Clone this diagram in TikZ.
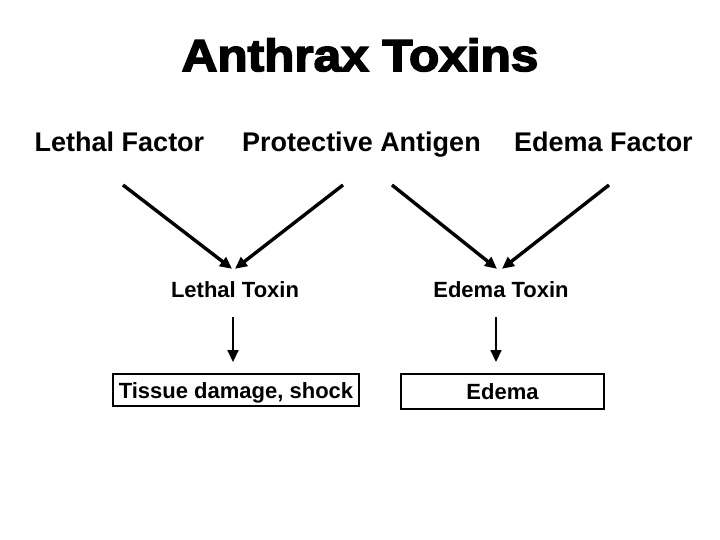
\documentclass[tikz,border=0pt]{standalone}
\usepackage{fontspec}
\setmainfont{Liberation Sans}
\newfontfamily\blackfont[FakeStretch=1.1,FakeBold=3.5]{Liberation Sans Bold}
\usetikzlibrary{arrows.meta}
\begin{document}
\begin{tikzpicture}[x=1pt,y=-1pt,>={Triangle[length=12pt,width=11pt]},
	hdr/.style={font=\fontsize{27}{30}\selectfont\bfseries,anchor=base},
	tox/.style={font=\fontsize{22}{24}\selectfont\bfseries,text height=16pt,text depth=0pt,inner ysep=12pt},
	outbox/.style={draw,line width=2pt,font=\fontsize{22}{24}\selectfont\bfseries,inner sep=0pt,text height=16pt,text depth=0pt},
	feed/.style={->,line width=3.4pt},
	lead/.style={->,line width=2pt,shorten <=8pt,shorten >=11pt}]
	\useasboundingbox (0,0) rectangle (720,540);
	\node[anchor=base,font=\blackfont\fontsize{45}{48}\selectfont] (title) at (360,71) {Anthrax Toxins};
	\node[hdr] (lf) at (119.5,152) {Lethal Factor};
	\node[hdr] (pa) at (361.5,152) {Protective Antigen};
	\node[hdr] (ef) at (603.5,152) {Edema Factor};
	\coordinate (lfa) at (123,185);
	\coordinate (paa) at (343,185);
	\coordinate (pab) at (392,185);
	\coordinate (efa) at (609,185);
	\node[tox] (lt) at (235,289) {Lethal Toxin};
	\node[tox] (et) at (501,289) {Edema Toxin};
	\node[outbox,minimum width=246pt,minimum height=32pt] (tissue) at (236,390) {Tissue damage, shock};
	\node[outbox,minimum width=203pt,minimum height=35pt] (edema) at (502.5,391.5) {Edema};
	\draw[feed] (lfa)--([xshift=-3pt]lt.north);
	\draw[feed] (paa)--([xshift=0pt]lt.north);
	\draw[feed] (pab)--([xshift=-4pt]et.north);
	\draw[feed] (efa)--([xshift=1pt]et.north);
	\draw[lead] ([xshift=-2pt]lt.south)--([xshift=-2pt]lt.south |- tissue.north);
	\draw[lead] ([xshift=-5pt]et.south)--([xshift=-5pt]et.south |- edema.north);
\end{tikzpicture}
\end{document}
